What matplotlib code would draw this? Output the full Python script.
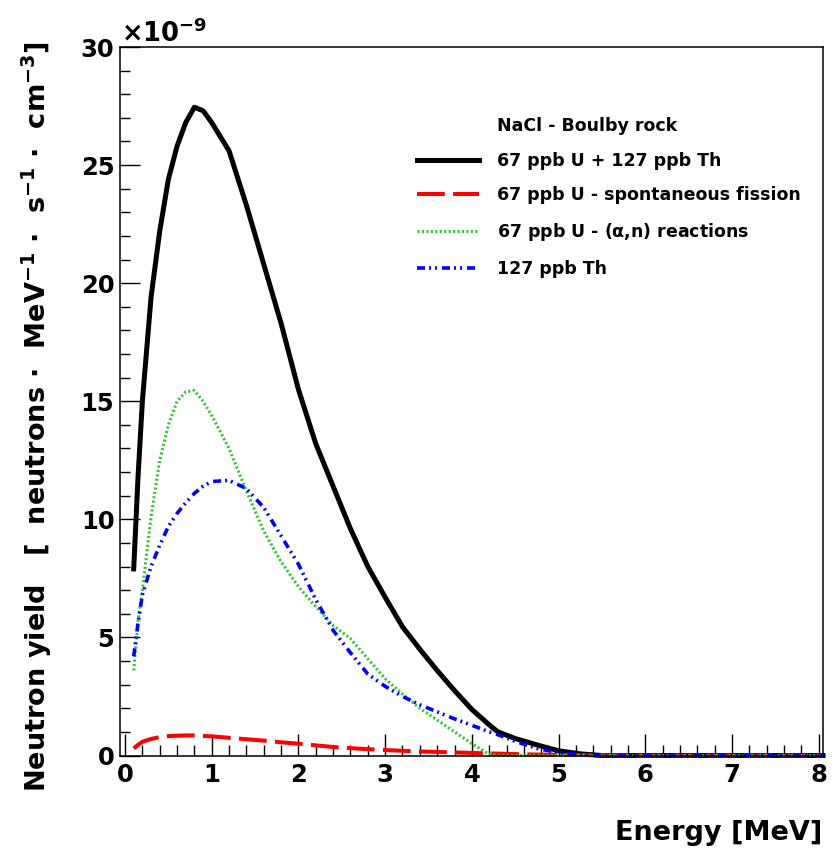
import matplotlib
matplotlib.use("Agg")
import matplotlib.pyplot as plt
from matplotlib.ticker import MultipleLocator

plt.rcParams['font.family'] = ['DejaVu Sans']
plt.rcParams['font.weight'] = 'bold'
plt.rcParams['mathtext.fontset'] = 'dejavusans'
plt.rcParams['mathtext.default'] = 'bf'
plt.rcParams['lines.scale_dashes'] = False

# energy grid [MeV]
energy = [0.10, 0.15, 0.2, 0.3, 0.4, 0.5, 0.6, 0.7, 0.8, 0.9, 1.0, 1.2, 1.4,
          1.6, 1.8, 2.0, 2.2, 2.4, 2.6, 2.8, 3.0, 3.2, 3.4, 3.6, 3.8, 4.0,
          4.2, 4.3, 4.5, 4.75, 5.0, 5.25, 5.5, 6.0, 6.5, 7.0, 7.5, 8.05]

# yields in units of 1e-9 neutrons / MeV / s / cm3
total = [7.9, 11.8, 15.0, 19.4, 22.2, 24.4, 25.8, 26.8, 27.45, 27.3, 26.8,
         25.6, 23.3, 20.8, 18.3, 15.5, 13.2, 11.4, 9.6, 8.0, 6.7, 5.45, 4.5,
         3.6, 2.75, 1.95, 1.3, 1.0, 0.72, 0.45, 0.2, 0.07, 0.0, 0, 0, 0, 0, 0]
fission = [0.3, 0.45, 0.58, 0.7, 0.78, 0.82, 0.84, 0.85, 0.85, 0.83, 0.81,
           0.75, 0.69, 0.63, 0.56, 0.5, 0.43, 0.36, 0.31, 0.27, 0.23, 0.2,
           0.17, 0.15, 0.13, 0.11, 0.09, 0.08, 0.06, 0.04, 0.03, 0.02, 0.01,
           0, 0, 0, 0, 0]
alpha_n = [3.6, 5.7, 7.0, 10.1, 12.5, 14.0, 15.0, 15.4, 15.45, 15.0, 14.4,
           13.0, 11.2, 9.5, 8.2, 7.15, 6.3, 5.5, 4.95, 4.1, 3.25, 2.6, 2.0,
           1.5, 1.0, 0.5, 0.05, 0, 0, 0, 0, 0, 0, 0, 0, 0, 0, 0]
thorium = [4.2, 5.6, 6.8, 8.0, 8.9, 9.7, 10.25, 10.7, 11.1, 11.4, 11.6,
           11.65, 11.3, 10.5, 9.3, 8.1, 6.6, 5.3, 4.35, 3.45, 2.93, 2.5,
           2.15, 1.85, 1.55, 1.28, 1.0, 0.88, 0.6, 0.3, 0.12, 0.03, 0,
           0, 0, 0, 0, 0]

fig = plt.figure(figsize=(8.34, 8.55), dpi=100)
ax = fig.add_axes([120/834, 1-755.5/855, 703/834, 708.5/855])

ax.plot([], [], color='none', label='NaCl - Boulby rock')
ax.plot(energy, total, color='black', lw=3.6, clip_on=False,
        label='67 ppb U + 127 ppb Th')
ax.plot(energy, fission, color='#ff0000', lw=2.9, clip_on=False,
        dashes=(20, 6), label='67 ppb U - spontaneous fission')
ax.plot(energy, alpha_n, color='#33c433', lw=2.2, clip_on=False,
        dashes=(1.5, 1.7), label=r'67 ppb U - ($\mathrm{\alpha}$,n) reactions')
ax.plot(energy, thorium, color='#0000ff', lw=2.6, clip_on=False,
        dashes=(5.8, 2.9, 1.4, 2.9, 1.4, 3.6), label='127 ppb Th')

ax.set_xlim(-0.058, 8.05)
ax.set_ylim(0, 30)
ax.xaxis.set_major_locator(MultipleLocator(1))
ax.xaxis.set_minor_locator(MultipleLocator(0.2))
ax.yaxis.set_major_locator(MultipleLocator(5))
ax.yaxis.set_minor_locator(MultipleLocator(1))
ax.tick_params(axis='x', which='both', direction='in', top=False,
               labelsize=17.5, pad=5.5, width=1)
ax.tick_params(axis='x', which='major', length=16)
ax.tick_params(axis='x', which='minor', length=8)
ax.tick_params(axis='y', which='both', direction='in', right=False,
               labelsize=17.5, pad=4, width=1)
ax.tick_params(axis='y', which='major', length=14.5)
ax.tick_params(axis='y', which='minor', length=7.2)
for lab in ax.get_xticklabels() + ax.get_yticklabels():
    lab.set_fontweight('bold')
for s in ax.spines.values():
    s.set_linewidth(1.1)

fig.text(121/834, 1-42/855, r'$\mathrm{\times10^{-9}}$', fontsize=18.5,
         ha='left', va='baseline')
fig.text(822/834, 1-840/855, 'Energy [MeV]', fontsize=19.5,
         fontweight='bold', ha='right', va='baseline')
fig.text(37/834, 1-41/855,
         r'Neutron yield   [  neutrons $\cdot$  MeV$^{-1}$ $\cdot$  s$^{-1}$ $\cdot$  cm$^{-3}$]',
         fontsize=19.5, fontweight='bold', rotation=90, ha='center', va='top')

leg = ax.legend(loc='upper left', bbox_to_anchor=(417/834, 1-117/855),
                bbox_transform=fig.transFigure, frameon=False, fontsize=12.5,
                handlelength=3.57, handletextpad=1.03, labelspacing=0.96,
                borderpad=0, borderaxespad=0)
for t in leg.get_texts():
    t.set_fontweight('bold')

fig.savefig('out.png', dpi=100, facecolor='white')
